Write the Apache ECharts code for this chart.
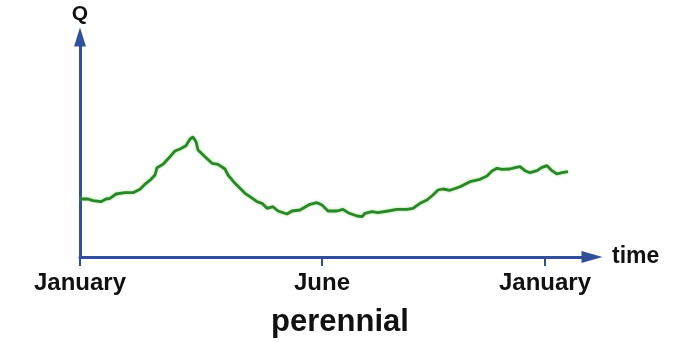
<!DOCTYPE html>
<html>
<head>
<meta charset="utf-8">
<script src="https://cdn.jsdelivr.net/npm/echarts@6/dist/echarts.min.js"></script>
<style>
html,body{margin:0;padding:0;background:#fff;}
#c{width:680px;height:342px;}
</style>
</head>
<body>
<div id="c"></div>
<script>
// time position (arbitrary units along the time axis) and discharge Q (arbitrary units)
const timeValues = [0, 8, 13, 21, 26, 30, 36, 45, 53, 60, 66, 71, 75, 77, 83, 90, 95, 100, 106, 110, 113, 116, 118, 125, 132, 138, 145, 148, 155, 165, 170, 177, 182, 187, 193, 198, 207, 212, 220, 230, 237, 242, 248, 257, 263, 268, 277, 282, 285, 292, 298, 308, 317, 327, 333, 340, 347, 353, 358, 363, 370, 380, 390, 400, 407, 412, 417, 422, 430, 435, 440, 445, 450, 457, 462, 467, 472, 477, 482, 488];
const qValues = [58, 58, 56.3, 55.3, 58, 58.7, 63, 64.3, 64.3, 67.7, 73.7, 77.7, 82, 89.3, 92.7, 100.3, 106, 108, 111.3, 118, 120, 115.3, 107, 100.3, 93.7, 92.7, 88, 82, 73.7, 63.7, 60.3, 55.3, 53.7, 48.7, 50.3, 46, 43, 46, 47, 52.7, 54.3, 52, 46, 46, 47.7, 44.3, 41, 40.3, 43.7, 45.3, 44.3, 46, 47.7, 47.7, 48.7, 53.7, 57, 62, 67, 68, 66.7, 70.3, 75.3, 77.7, 81, 86, 88.7, 87.7, 88, 89.3, 90.3, 86.3, 84.3, 86.3, 89.7, 91.3, 86.3, 83, 84.3, 85.3];
const tickValues = [0, 242, 465];
const tickLabels = ['January', 'June', 'January'];
const xAxisName = 'time';
const yAxisName = 'Q';
const chartTitle = 'perennial';

const data = timeValues.map((t, i) => [t, qValues[i]]);
const axisColor = '#32509a';
const font = 'Liberation Sans, Arial, Helvetica, sans-serif';

const chart = echarts.init(document.getElementById('c'), null, {renderer: 'canvas'});
chart.setOption({
  animation: false,
  backgroundColor: '#ffffff',
  title: {
    text: chartTitle,
    left: 'center',
    top: 302,
    textStyle: {fontFamily: font, fontWeight: 'bold', fontSize: 31, color: '#111'}
  },
  grid: {left: 80, right: 88, top: 37, bottom: 85, containLabel: false},
  xAxis: {
    type: 'value',
    min: 0,
    max: 512,
    name: xAxisName,
    nameLocation: 'end',
    nameGap: 20,
    nameTextStyle: {fontFamily: font, fontWeight: 'bold', fontSize: 23, color: '#111', verticalAlign: 'middle'},
    axisLine: {show: true, onZero: false, symbol: ['none', 'triangle'], symbolSize: [12, 21], lineStyle: {color: axisColor, width: 3}},
    axisTick: {show: true, customValues: tickValues, length: 9, lineStyle: {color: axisColor, width: 2}},
    axisLabel: {
      show: true,
      customValues: tickValues,
      formatter: function (v) { const i = tickValues.indexOf(v); return i >= 0 ? tickLabels[i] : ''; },
      margin: 14,
      fontFamily: font, fontWeight: 'bold', fontSize: 24, color: '#111'
    },
    splitLine: {show: false}
  },
  yAxis: {
    type: 'value',
    min: 0,
    max: 220,
    name: yAxisName,
    nameLocation: 'end',
    nameGap: 12,
    nameTextStyle: {fontFamily: font, fontWeight: 'bold', fontSize: 21, color: '#111', align: 'center'},
    axisLine: {show: true, symbol: ['none', 'triangle'], symbolSize: [12, 19], lineStyle: {color: axisColor, width: 3}},
    axisTick: {show: false},
    axisLabel: {show: false},
    splitLine: {show: false}
  },
  series: [{
    type: 'line',
    data: data,
    showSymbol: false,
    smooth: false,
    lineStyle: {color: '#2b862b', width: 2.8, shadowColor: 'rgba(110,210,80,0.7)', shadowBlur: 3},
    itemStyle: {color: '#2b862b'}
  }]
});
</script>
</body>
</html>
